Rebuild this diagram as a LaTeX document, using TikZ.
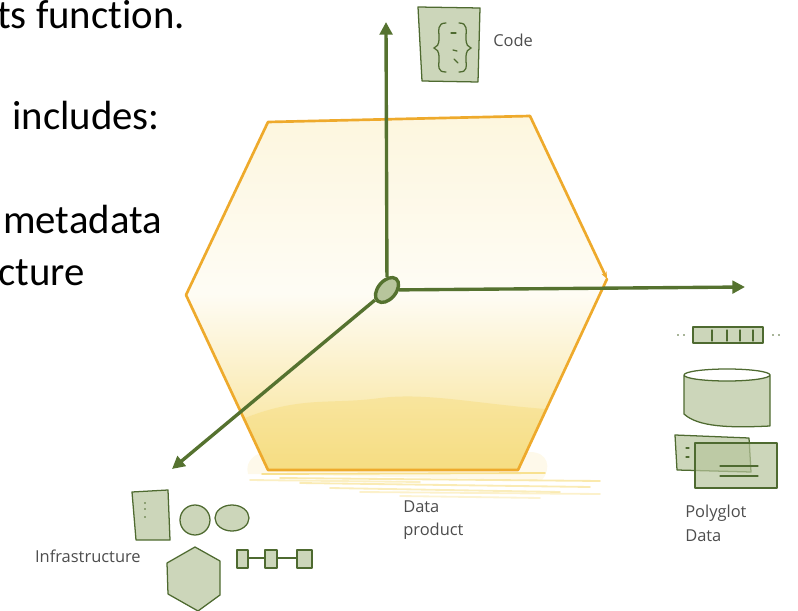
\documentclass[tikz,border=0pt]{standalone}
\usepackage{fontspec}
\setmainfont{Carlito}[Ligatures=NoCommon]
\newfontfamily\labelfont{Open Sans}
\usepackage{tikz}
\usetikzlibrary{shapes.geometric,arrows.meta,positioning}
\usepackage{xcolor}

\definecolor{hexorange}{HTML}{EEAA2C}
\definecolor{washyellow}{HTML}{F5D76A}
\definecolor{axisgreen}{HTML}{55722F}
\definecolor{iconline}{HTML}{4E6A30}
\definecolor{iconwash}{HTML}{B7C59C}
\definecolor{labelgrey}{HTML}{4D4D4D}

\begin{document}
\begin{tikzpicture}[x=0.025cm, y=-0.025cm,
    hexline/.style={line width=1.9pt, hexorange, line join=round, line cap=round},
    axis/.style={line width=2.4pt, axisgreen, -{Triangle[length=9pt,width=9pt]}},
    icon/.style={draw=iconline, line width=0.9pt, fill=iconwash, fill opacity=0.7, line join=round},
    iconmark/.style={iconline, line width=0.9pt, line cap=round},
    lbl/.style={font=\labelfont\fontsize{11.7}{16.8}\selectfont, text=labelgrey, align=left, inner sep=0pt},
    slide/.style={font=\fontsize{29}{35}\selectfont, anchor=base west, inner sep=0pt}]
  \useasboundingbox (0,0) rectangle (798,611);

  % Slide text, cut off at the left
  \node[slide] (t1) at (-3,29) {ts function.};
  \node[slide] (t2) at (12,130) {includes:};
  \node[slide] (t3) at (3,233) {metadata};
  \node[slide] (t4) at (-2,285) {cture};

  % Hexagon corners
  \coordinate (h1) at (268,122);
  \coordinate (h2) at (530,116);
  \coordinate (h3) at (607,279);
  \coordinate (h4) at (518,470);
  \coordinate (h5) at (268,470);
  \coordinate (h6) at (186,295);

  % Yellow wash, bleeding a little past the bottom corners
  \fill[washyellow, opacity=0.14] (248,474) .. controls (244,460) and (258,452) .. (266,452)
    -- (530,452) .. controls (548,452) and (552,468) .. (542,480) -- cycle;
  \shade[top color=washyellow!22, bottom color=washyellow!75, middle color=washyellow!7]
    (h1) -- (h2) -- (h3) -- (h4) -- (h5) -- (h6) -- cycle;
  \begin{scope}
    \clip (h1) -- (h2) -- (h3) -- (h4) -- (h5) -- (h6) -- cycle;
    \fill[washyellow, opacity=0.35] (240,472) -- (240,420)
      .. controls (300,395) and (330,405) .. (380,398)
      .. controls (430,392) and (480,405) .. (560,410) -- (560,472) -- cycle;
  \end{scope}
  % brush strokes under the bottom edge
  \foreach \xa/\ya/\xb/\yb/\o in {262/474/545/473/0.7, 280/478/600/481/0.55, 300/483/590/487/0.5,
      330/488/560/492/0.45, 360/492/600/494/0.35, 250/480/420/482/0.4, 400/496/540/498/0.3}
    \draw[washyellow, opacity=\o, line width=1.3pt, line cap=round] (\xa,\ya) -- (\xb,\yb);

  % Hexagon outline
  \draw[hexline] (h3) -- (h4) -- (h5) -- (h6) -- (h1) -- (h2);
  \draw[hexline, -{Stealth[length=5pt,width=4pt]}] (h2) -- (h3);

  % Axes
  \node[ellipse, draw=axisgreen, line width=2.4pt, fill=iconwash, rotate=50,
    minimum width=0.72cm, minimum height=0.45cm, inner sep=0pt] (hub) at (387,290) {};
  \coordinate (codeend) at (386,22);
  \coordinate (dataend) at (745,287);
  \coordinate (infraend) at (172,469);
  \draw[axis] (hub) -- (codeend);
  \draw[axis] (hub) -- (dataend);
  \draw[axis] (hub) -- (infraend);

  % Code icon
  \draw[icon] (418,7) -- (480,8) -- (478,82) -- (422,81) -- cycle;
  \draw[iconmark] (446,23) .. controls (437,23) and (439,30) .. (439,38)
    .. controls (439,45) and (437,47) .. (434,48) .. controls (437,49) and (439,51) .. (439,58)
    .. controls (439,67) and (437,72) .. (446,72);
  \draw[iconmark] (459,23) .. controls (468,23) and (466,30) .. (466,38)
    .. controls (466,45) and (468,47) .. (471,48) .. controls (468,49) and (466,51) .. (466,58)
    .. controls (466,67) and (468,72) .. (459,72);
  \draw[iconmark] (451,33) -- (456,33);
  \draw[iconmark] (453,50) -- (457,51);
  \draw[iconmark] (454,59) -- (458,63);
  \node[lbl, anchor=base west] (code) at (493,47) {Code};

  % Polyglot data icons
  \draw[icon] (693,327) rectangle (763,343);
  \foreach \x in {712,727,740,753}
    \draw[iconmark] (\x,330) -- (\x,341);
  \foreach \x in {678,684,773,779}
    \fill[iconline] (\x,335) circle (0.9);
  \draw[icon] (684,375) -- (684,414) .. controls (698,427) and (730,428) .. (770,426) -- (770,375)
    arc[start angle=0, end angle=180, x radius=43, y radius=6];
  \draw[iconline, line width=0.9pt] (684,375) arc[start angle=180, end angle=360, x radius=43, y radius=6];
  \draw[icon] (675,435) -- (749,438) -- (751,472) -- (677,470) -- cycle;
  \draw[iconmark] (686,448) -- (689,448);
  \draw[iconmark] (686,457) -- (689,457);
  \draw[icon] (695,443) rectangle (777,488);
  \draw[iconmark] (720,466) -- (758,466);
  \draw[iconmark] (720,476) -- (758,476);
  \node[lbl, anchor=north west] (polyglot) at (685,505) {Polyglot\\Data};

  % Infrastructure icons
  \draw[icon] (132,492) -- (168,490) -- (170,540) -- (136,540) -- cycle;
  \foreach \y in {503,509,517}
    \fill[iconline] (145,\y) circle (0.9);
  \draw[icon] (195,520) circle (15);
  \draw[icon] (232,518) ellipse (17 and 13);
  \draw[icon] (195,547) -- (220,561) -- (220,595) -- (198,611) -- (168,594) -- (167,563) -- cycle;
  \foreach \xa/\xb in {237/248, 265/277, 297/312}
    \draw[icon] (\xa,550) rectangle (\xb,568);
  \draw[iconmark] (248,558) -- (265,558);
  \draw[iconmark] (277,558) -- (297,558);
  \node[lbl, anchor=base east] (infra) at (141,562) {Infrastructure};

  % Data product label
  \node[lbl, anchor=north west] (product) at (403,500) {Data\\product};
\end{tikzpicture}
\end{document}
